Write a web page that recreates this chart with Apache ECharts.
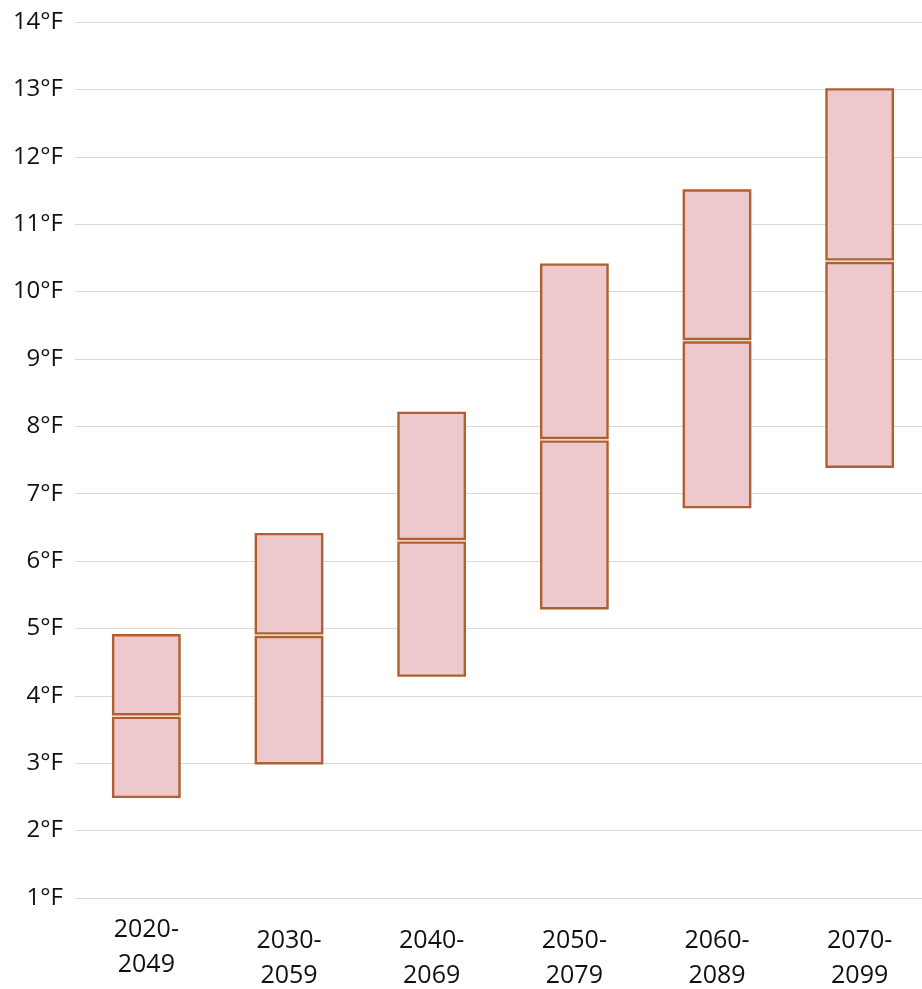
<!DOCTYPE html>
<html>
<head>
<meta charset="utf-8">
<style>
  html, body { margin: 0; padding: 0; background: #fff; overflow: hidden; }
  #chart { width: 932px; height: 989px; }
</style>
<script src="https://cdn.jsdelivr.net/npm/echarts@6/dist/echarts.min.js"></script>
</head>
<body>
<div id="chart"></div>
<script>
// Projected warming ranges per 30-year period (°F)
const periods = ['2020-\n2049', '2030-\n2059', '2040-\n2069', '2050-\n2079', '2060-\n2089', '2070-\n2099'];
const lowValues = [2.5, 3.0, 4.3, 5.3, 6.8, 7.4];
const medianValues = [3.7, 4.9, 6.3, 7.8, 9.27, 10.45];
const highValues = [4.9, 6.4, 8.2, 10.4, 11.5, 13.0];
const yTicks = [1, 14, 1]; // min, max, step

const boxData = periods.map((p, i) => [i, lowValues[i], medianValues[i], highValues[i]]);

const chart = echarts.init(document.getElementById('chart'));

function renderBox(params, api) {
  const idx = api.value(0);
  const pLow = api.coord([idx, api.value(1)]);
  const pMed = api.coord([idx, api.value(2)]);
  const pHigh = api.coord([idx, api.value(3)]);
  const w = api.size([1, 0])[0] * 0.465;
  const x = pLow[0] - w / 2;
  const gap = 1.8;
  const style = { fill: '#edc9cd', stroke: '#b0602f', lineWidth: 2.4 };
  return {
    type: 'group',
    children: [
      { type: 'rect', shape: { x: x, y: pHigh[1], width: w, height: pMed[1] - gap - pHigh[1] }, style: style },
      { type: 'rect', shape: { x: x, y: pMed[1] + gap, width: w, height: pLow[1] - pMed[1] - gap }, style: style }
    ]
  };
}

chart.setOption({
  animation: false,
  backgroundColor: '#ffffff',
  grid: { left: 75, top: 22, bottom: 91, width: 856 },
  xAxis: {
    type: 'category',
    data: periods,
    axisLine: { show: false },
    axisTick: { show: false },
    axisLabel: {
      interval: 0,
      margin: 14,
      formatter: function (v, i) {
        const lines = v.split('\n').map(s => '{t|' + s + '}').join('\n');
        return i === 0 ? lines : '{sp| }\n' + lines;
      },
      rich: {
        t: { fontFamily: 'Open Sans', fontSize: 25, lineHeight: 35, color: '#111' },
        sp: { fontSize: 1, lineHeight: 11 }
      }
    }
  },
  yAxis: {
    type: 'value',
    min: yTicks[0],
    max: yTicks[1],
    interval: yTicks[2],
    axisLine: { show: false },
    axisTick: { show: false },
    axisLabel: {
      margin: 12,
      fontFamily: 'Open Sans',
      fontSize: 24,
      color: '#111',
      formatter: v => v + '°F'
    },
    splitLine: { lineStyle: { color: '#d9d9d9', width: 1 } }
  },
  series: [{
    type: 'custom',
    renderItem: renderBox,
    encode: { x: 0, y: [1, 2, 3] },
    data: boxData
  }]
});
</script>
</body>
</html>
